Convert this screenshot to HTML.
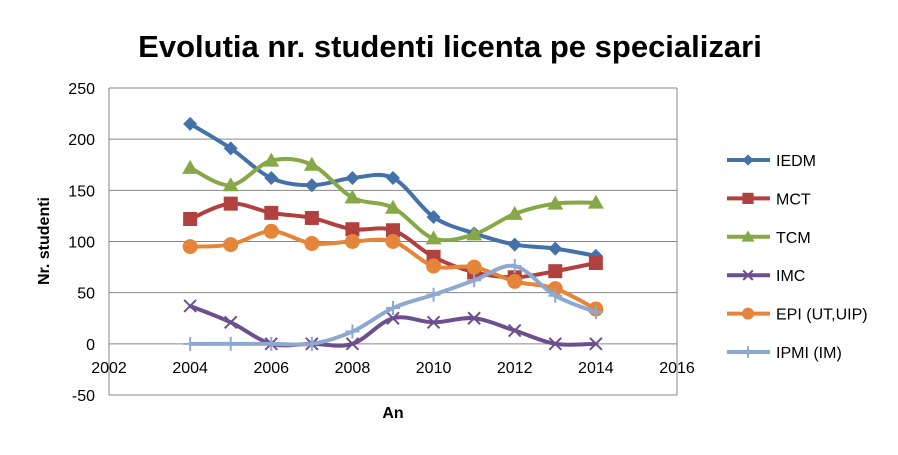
<!DOCTYPE html>
<html><head><meta charset="utf-8"><style>
body{margin:0;background:#fff;font-family:"Liberation Sans",sans-serif}
svg text{font-family:"Liberation Sans",sans-serif}
</style></head><body>
<svg width="898" height="450" id="c">
<text x="450" y="57" text-anchor="middle" font-size="31" font-weight="bold">Evolutia nr. studenti licenta pe specializari</text>
<g id="grid"></g><g id="series"></g><g id="legend"></g>
<text x="393" y="418" text-anchor="middle" font-size="16" font-weight="bold">An</text>
<text transform="translate(49,241) rotate(-90)" text-anchor="middle" font-size="16" font-weight="bold">Nr. studenti</text>
</svg>
<script>
const years=[2004,2005,2006,2007,2008,2009,2010,2011,2012,2013,2014];
const xTicks=[2002,2004,2006,2008,2010,2012,2014,2016];
const yTicks=[-50,0,50,100,150,200,250];
const names=["IEDM","MCT","TCM","IMC","EPI (UT,UIP)","IPMI (IM)"];
const iedm=[215,191,162,155,162,162,124,108,97,93,86];
const mct=[122,137,128,123,112,111,85,70,65,71,79];
const tcm=[172,155,179,175,143,133,103,107,127,137,138];
const imc=[37,21,0,0,0,25,21,25,13,0,0];
const epi=[95,97,110,98,100,100,76,75,61,54,34];
const ipmi=[0,0,0,0,12,35,48,62,76,47,31];
const colors=["#4472A8","#B0413E","#86A846","#6C4F8C","#E5853A","#8EA9D1"];
const markers=["diamond","square","triangle","x","circle","plus"];
const NS="http://www.w3.org/2000/svg";
const L=109,R=677,T=88,B=395;
const xs=v=>L+(v-2002)/(2016-2002)*(R-L);
const ys=v=>B-(v+50)/300*(B-T);
function mk(t,a,p){const e=document.createElementNS(NS,t);for(const k in a)e.setAttribute(k,a[k]);p.appendChild(e);return e;}
const g=document.getElementById('grid');
yTicks.forEach(v=>{const l=mk('line',{x1:L,x2:R,y1:ys(v),y2:ys(v),stroke:v==0?'#868686':'#868686','stroke-width':1},g);


const t=mk('text',{x:L-14,y:ys(v)+6,'text-anchor':'end','font-size':16},g);t.textContent=v;

});
mk('line',{x1:L,x2:L,y1:T,y2:B,stroke:'#868686'},g);
mk('line',{x1:R,x2:R,y1:T,y2:B,stroke:'#868686'},g);
xTicks.forEach(v=>{const t=mk('text',{x:xs(v),y:ys(0)+29,'text-anchor':'middle','font-size':16},g);t.textContent=v;

});
function smooth(pts){let d='M'+pts[0][0]+','+pts[0][1];for(let i=0;i<pts.length-1;i++){const p0=pts[Math.max(0,i-1)],p1=pts[i],p2=pts[i+1],p3=pts[Math.min(pts.length-1,i+2)];const k=1/6;
d+=' C'+(p1[0]+(p2[0]-p0[0])*k)+','+(p1[1]+(p2[1]-p0[1])*k)+' '+(p2[0]-(p3[0]-p1[0])*k)+','+(p2[1]-(p3[1]-p1[1])*k)+' '+p2[0]+','+p2[1];}return d;}
function marker(type,x,y,c,p,s){s=s||1;
if(type=="diamond")return mk('polygon',{points:`${x},${y-7*s} ${x+7*s},${y} ${x},${y+7*s} ${x-7*s},${y}`,fill:c},p);
if(type=="square")return mk('rect',{x:x-7*s,y:y-7*s,width:14*s,height:14*s,fill:c},p);
if(type=="triangle")return mk('polygon',{points:`${x},${y-8*s} ${x+8*s},${y+6*s} ${x-8*s},${y+6*s}`,fill:c},p);
if(type=="circle")return mk('circle',{cx:x,cy:y,r:7.5*s,fill:c},p);
if(type=="x")return mk('path',{d:`M${x-6*s},${y-6*s}L${x+6*s},${y+6*s}M${x+6*s},${y-6*s}L${x-6*s},${y+6*s}`,stroke:c,'stroke-width':2},p);
return mk('path',{d:`M${x-7*s},${y}L${x+7*s},${y}M${x},${y-7*s}L${x},${y+7*s}`,stroke:c,'stroke-width':2},p);}
const sg=document.getElementById('series'),lg=document.getElementById('legend');
[iedm,mct,tcm,imc,epi,ipmi].forEach((arr,i)=>{const grp=mk('g',{},sg);


const pts=arr.map((v,j)=>[xs(years[j]),ys(v)]);
mk('path',{d:smooth(pts),fill:'none',stroke:colors[i],'stroke-width':4,'stroke-linejoin':'round'},grp);
pts.forEach(p=>{const m=marker(markers[i],p[0],p[1],colors[i],grp);

});
const ly=160+i*38.4;const le=mk('g',{},lg);


mk('line',{x1:727,x2:770,y1:ly,y2:ly,stroke:colors[i],'stroke-width':4},le);
marker(markers[i],748,ly,colors[i],le,0.8);
const t=mk('text',{x:776,y:ly+6,'font-size':16},le);t.textContent=names[i];});
</script>
</body></html>
